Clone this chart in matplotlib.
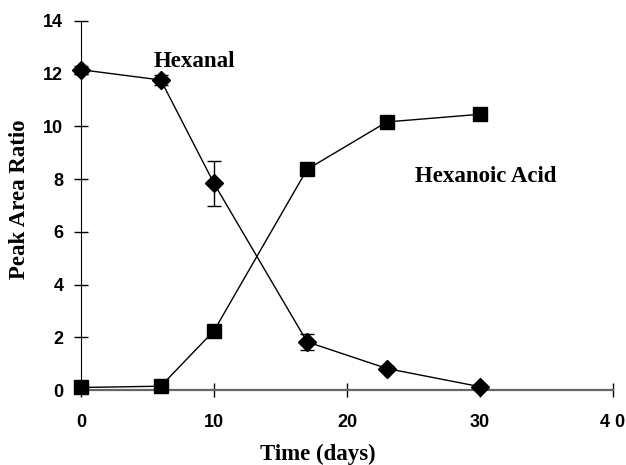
import numpy as np
from matplotlib import pyplot as plt

days = [0, 6, 10, 17, 23, 30]
hexanal = [12.15, 11.76, 7.84, 1.83, 0.82, 0.13]
hexanal_err = [0.15, 0.2, 0.85, 0.3, 0.1, 0.05]
acid = [0.1, 0.15, 2.25, 8.37, 10.17, 10.46]
acid_err = [0.05, 0.1, 0.1, 0.1, 0.1, 0.1]

xticks = [0, 10, 20, 30, 40]
xlabels = ['0', '10', '20', '30', '4 0']
yticks = [0, 2, 4, 6, 8, 10, 12, 14]

fig = plt.figure(figsize=(6.26, 4.65), dpi=100)
ax = fig.add_axes([0.1294, 0.161, 0.8498, 0.794])

ax.errorbar(days, hexanal, yerr=hexanal_err, color='black', lw=1,
            marker='D', ms=9.5, capsize=5, elinewidth=1, clip_on=False, zorder=3)
ax.errorbar(days, acid, yerr=acid_err, color='black', lw=1,
            marker='s', ms=9.5, capsize=4, elinewidth=1, clip_on=False, zorder=3)

ax.set_xlim(0, 40)
ax.set_ylim(0, 14)
ax.spines['top'].set_visible(False)
ax.spines['right'].set_visible(False)
ax.spines['left'].set_color('black')
ax.spines['bottom'].set_color('#666666')
ax.spines['bottom'].set_linewidth(1.6)

ax.set_xticks(xticks)
ax.set_xticklabels(xlabels)
ax.set_yticks(yticks)
ax.tick_params(direction='inout', length=9.5, width=1)
ax.tick_params(axis='x', pad=12.5)
ax.tick_params(axis='y', pad=8)
for lab in ax.get_xticklabels() + ax.get_yticklabels():
    lab.set_fontfamily('Liberation Sans')
    lab.set_fontweight('bold')
    lab.set_fontsize(13)

serif = dict(fontfamily='Liberation Serif', fontweight='bold', fontsize=16.5)
fig.text(20 / 626, 1 - 199.5 / 465, 'Peak Area Ratio', rotation=90,
         ha='center', va='center', **serif)
fig.text(317.5 / 626, 1 - 454 / 465, 'Time (days)', ha='center', va='center', **serif)

ax.text(5.5, 12.25, 'Hexanal', va='baseline', **serif)
ax.text(25.1, 7.89, 'Hexanoic Acid', va='baseline', **serif)

plt.savefig('out.png', dpi=100)
